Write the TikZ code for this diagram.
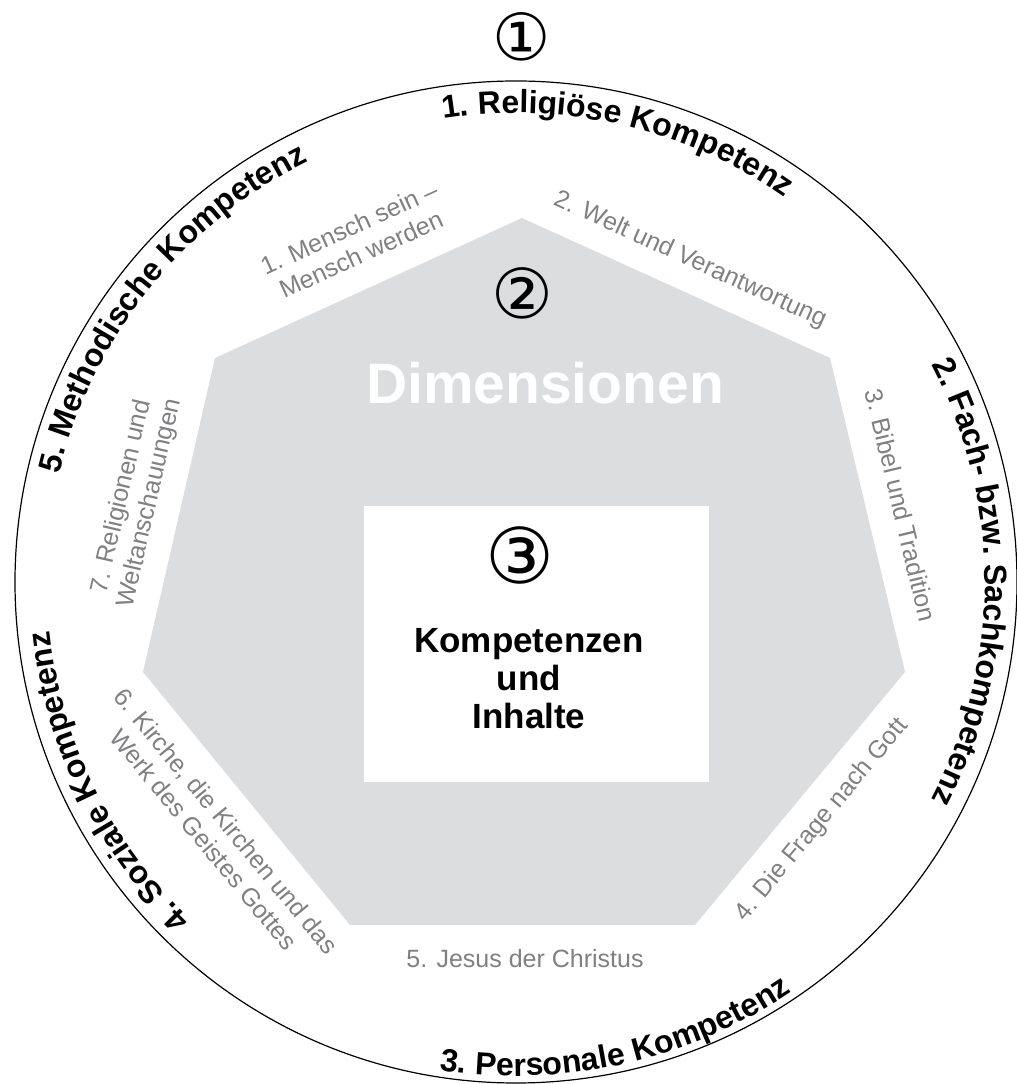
\documentclass[tikz,border=0pt]{standalone}
\usepackage{fontspec}
\setmainfont{Liberation Sans}
\newfontfamily\symfont{DejaVu Sans}
\usetikzlibrary{decorations.text,calc}
\definecolor{hept}{RGB}{220,221,223}
\definecolor{lbl}{RGB}{128,128,130}
\begin{document}
\begin{tikzpicture}[x=1pt,y=1pt,
  dimtext/.style={text=lbl, font=\fontsize{25}{29}\selectfont, align=center, inner sep=0pt},
  circnum/.style={font=\symfont\fontsize{#1}{#1}\selectfont, inner sep=0pt},
  arclabel/.style={decorate, decoration={text along path, text align=center,
     text={|\fontsize{32}{32}\selectfont\bfseries|#1}}}
]
\useasboundingbox (0,0) rectangle (1017,1084);
\coordinate (C) at (516,502);
% heptagon
\fill[hept] (522,866) -- (830,726) -- (905,412) -- (695,159) -- (350,159) -- (143,412) -- (215,726) -- cycle;
% inner box
\fill[white] (364,302) rectangle (709,578);
% outer circle
\draw[line width=1.2pt] (C) circle[radius=501];
% competence labels on the circle
\path[arclabel={1. Religiöse Kompetenz}] ($(C)+(117:469)$) arc[start angle=117,end angle=37,radius=469];
\path[arclabel={2. Fach- bzw. Sachkompetenz}] ($(C)+(40:469)$) arc[start angle=40,end angle=-40,radius=469];
\path[arclabel={3. Personale Kompetenz}] ($(C)+(-117.5:494)$) arc[start angle=-117.5,end angle=-37.5,radius=494];
\path[arclabel={4. Soziale Kompetenz}] ($(C)+(-114:469)$) arc[start angle=-114,end angle=-194,radius=469];
\path[arclabel={5. Methodische Kompetenz}] ($(C)+(181.5:469)$) arc[start angle=181.5,end angle=101.5,radius=469];
% circled numbers
\node[circnum=65] (n1) at (522,1047) {①};
\node[circnum=69] (n2) at (522,791) {②};
\node[circnum=77] (n3) at (520,529) {③};
% titles
\node[text=white, font=\bfseries\fontsize{57}{57}\selectfont, inner sep=0pt] (dim) at (545,701) {Dimensionen};
\node[font=\bfseries\fontsize{35}{38}\selectfont, align=center, inner sep=0pt] (kom) at (529,405) {Kompetenzen\\und\\Inhalte};
% dimension labels
\node[dimtext, rotate=24.5] (d1) at (355,843) {1. Mensch sein –\\Mensch werden};
\node[dimtext, rotate=-24.5] (d2) at (690,824) {2. Welt und Verantwortung};
\node[dimtext, rotate=-76.6] (d3) at (901,579) {3. Bibel und Tradition};
\node[dimtext, rotate=50.3] (d4) at (822,264) {4. Die Frage nach Gott};
\node[dimtext] (d5) at (525,125) {5. Jesus der Christus};
\node[dimtext, rotate=-50.4] (d6) at (215,254) {6. Kirche, die Kirchen und das\\Werk des Geistes Gottes};
\node[dimtext, rotate=77.1] (d7) at (136,584) {7. Religionen und\\Weltanschauungen};
\end{tikzpicture}
\end{document}
